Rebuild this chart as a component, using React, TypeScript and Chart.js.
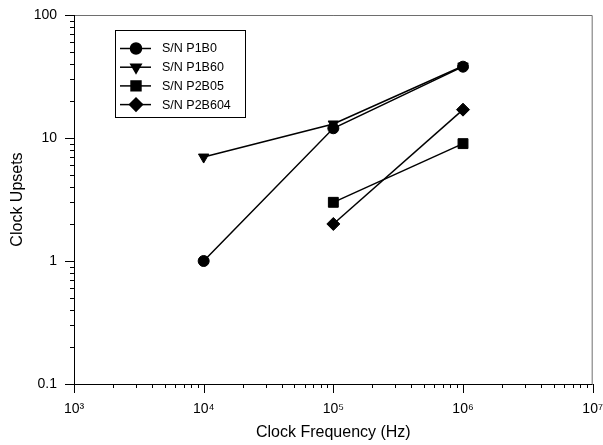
import { useEffect, useRef } from "react";
import { Chart, registerables } from "chart.js";
import { drawPoint } from "chart.js/helpers";

Chart.register(...registerables);

const frequencies = [1e4, 1e5, 1e6];
const seriesNames = ["S/N P1B0", "S/N P1B60", "S/N P2B05", "S/N P2B604"];
const p1b0 = [1, 12, 38];
const p1b60 = [7, 13, 38.5];
const p2b05 = [null, 3, 9];
const p2b604 = [null, 2, 17];
const seriesValues = [p1b0, p1b60, p2b05, p2b604];
const pointStyles = ["circle", "triangle", "rect", "rectRot"];
const pointRotations = [0, 180, 0, 0];
const pointSizes = [5.5, 6, 7, 6.5];

const xTickValues = [1e3, 1e4, 1e5, 1e6, 1e7];
const xTickLabels = ["10³", "10⁴", "10⁵", "10⁶", "10⁷"];
const yTickValues = [0.1, 1, 10, 100];
const yTickLabels = ["0.1", "1", "10", "100"];

const FONT = "'Liberation Sans', Arial, sans-serif";

function minorValues(majors: number[]) {
  const out: number[] = [];
  for (let i = 0; i < majors.length - 1; i++) {
    for (let m = 2; m <= 9; m++) out.push(majors[i] * m);
  }
  return out;
}

const decorPlugin = {
  id: "decor",
  afterDraw(chart: any) {
    const { ctx, chartArea: a, scales } = chart;
    const xs = scales.x;
    const ys = scales.y;
    ctx.save();
    ctx.lineWidth = 1;
    // frame top/right (gray)
    ctx.strokeStyle = "#6e6e6e";
    ctx.beginPath();
    ctx.moveTo(a.left, a.top + 0.5);
    ctx.lineTo(a.right - 0.5, a.top + 0.5);
    ctx.lineTo(a.right - 0.5, a.bottom);
    ctx.stroke();
    // left/bottom axes (black)
    ctx.strokeStyle = "#000";
    ctx.beginPath();
    ctx.moveTo(a.left + 0.5, a.top);
    ctx.lineTo(a.left + 0.5, a.bottom + 0.5);
    ctx.lineTo(a.right, a.bottom + 0.5);
    ctx.stroke();
    // x ticks
    ctx.beginPath();
    xTickValues.forEach((v) => {
      const px = Math.round(xs.getPixelForValue(v)) + 0.5;
      ctx.moveTo(px, a.bottom);
      ctx.lineTo(px, a.bottom + 9);
    });
    minorValues(xTickValues).forEach((v) => {
      const px = Math.round(xs.getPixelForValue(v)) + 0.5;
      ctx.moveTo(px, a.bottom);
      ctx.lineTo(px, a.bottom + 4);
    });
    // y ticks
    yTickValues.forEach((v) => {
      const py = Math.round(ys.getPixelForValue(v)) + 0.5;
      ctx.moveTo(a.left, py);
      ctx.lineTo(a.left - 9, py);
    });
    minorValues(yTickValues).forEach((v) => {
      const py = Math.round(ys.getPixelForValue(v)) + 0.5;
      ctx.moveTo(a.left, py);
      ctx.lineTo(a.left - 4, py);
    });
    ctx.stroke();

    // legend
    const bx = 115.5, by = 30.5, bw = 130, bh = 87;
    ctx.strokeStyle = "#000";
    ctx.lineWidth = 1;
    ctx.fillStyle = "#fff";
    ctx.fillRect(bx, by, bw, bh);
    ctx.strokeRect(bx, by, bw, bh);
    ctx.font = "12.5px " + FONT;
    ctx.textBaseline = "middle";
    ctx.textAlign = "left";
    chart.data.datasets.forEach((ds: any, i: number) => {
      const ry = 48.5 + i * 18.7;
      ctx.strokeStyle = "#000";
      ctx.lineWidth = 1.5;
      ctx.beginPath();
      ctx.moveTo(120, ry);
      ctx.lineTo(151, ry);
      ctx.stroke();
      ctx.fillStyle = "#000";
      drawPoint(ctx, {
        pointStyle: ds.pointStyle,
        rotation: ds.pointRotation,
        radius: ds.pointRadius,
        borderWidth: 1,
      } as any, 136, ry);
      ctx.fillStyle = "#000";
      ctx.fillText(ds.label, 162, ry + 0.5);
    });
    ctx.restore();
  },
};

export default function App() {
  const canvasRef = useRef<HTMLCanvasElement | null>(null);

  useEffect(() => {
    document.body.style.margin = "0";
    const canvas = canvasRef.current!;
    const datasets = seriesNames.map((name, i) => ({
      label: name,
      data: frequencies
        .map((f, j) => ({ x: f, y: seriesValues[i][j] }))
        .filter((p) => p.y !== null),
      borderColor: "#000",
      backgroundColor: "#000",
      borderWidth: 1.5,
      pointStyle: pointStyles[i],
      pointRotation: pointRotations[i],
      pointRadius: pointSizes[i],
      pointBorderWidth: 1,
      pointBackgroundColor: "#000",
      pointBorderColor: "#000",
      showLine: true,
      tension: 0,
    }));

    const chart = new Chart(canvas, {
      type: "scatter",
      data: { datasets },
      options: {
        animation: false,
        responsive: false,
        maintainAspectRatio: false,
        layout: { padding: { top: 15, right: 10, left: 0, bottom: 0 } },
        plugins: {
          legend: { display: false },
          tooltip: { enabled: false },
        },
        scales: {
          x: {
            type: "logarithmic",
            position: "bottom",
            min: 1e3,
            max: 1e7,
            grid: { display: false, drawTicks: true, tickLength: 17 },
            border: { display: false },
            afterBuildTicks: (scale: any) => {
              scale.ticks = xTickValues.map((v) => ({ value: v }));
            },
            afterFit: (scale: any) => {
              scale.height = 61;
            },
            ticks: {
              autoSkip: false,
              maxRotation: 0,
              padding: 0,
              color: "#000",
              font: { family: FONT, size: 14 },
              callback: (_v: any, i: number) => xTickLabels[i],
            },
            title: {
              display: true,
              text: "Clock Frequency (Hz)",
              color: "#000",
              font: { family: FONT, size: 16 },
              padding: { top: 0, bottom: 3 },
            },
          },
          y: {
            type: "logarithmic",
            position: "left",
            min: 0.1,
            max: 100,
            grid: { display: false, drawTicks: true, tickLength: 17 },
            border: { display: false },
            afterBuildTicks: (scale: any) => {
              scale.ticks = yTickValues.map((v) => ({ value: v }));
            },
            afterFit: (scale: any) => {
              scale.width = 74;
            },
            ticks: {
              autoSkip: false,
              padding: 0,
              color: "#000",
              font: { family: FONT, size: 14 },
              callback: (_v: any, i: number) => yTickLabels[i],
            },
            title: {
              display: true,
              text: "Clock Upsets",
              color: "#000",
              font: { family: FONT, size: 16 },
              padding: { top: 8, bottom: 0 },
            },
          },
        },
      },
      plugins: [decorPlugin],
    } as any);

    return () => chart.destroy();
  }, []);

  return (
    <canvas
      ref={canvasRef}
      width={603}
      height={445}
      style={{ display: "block", width: 603, height: 445 }}
    />
  );
}
